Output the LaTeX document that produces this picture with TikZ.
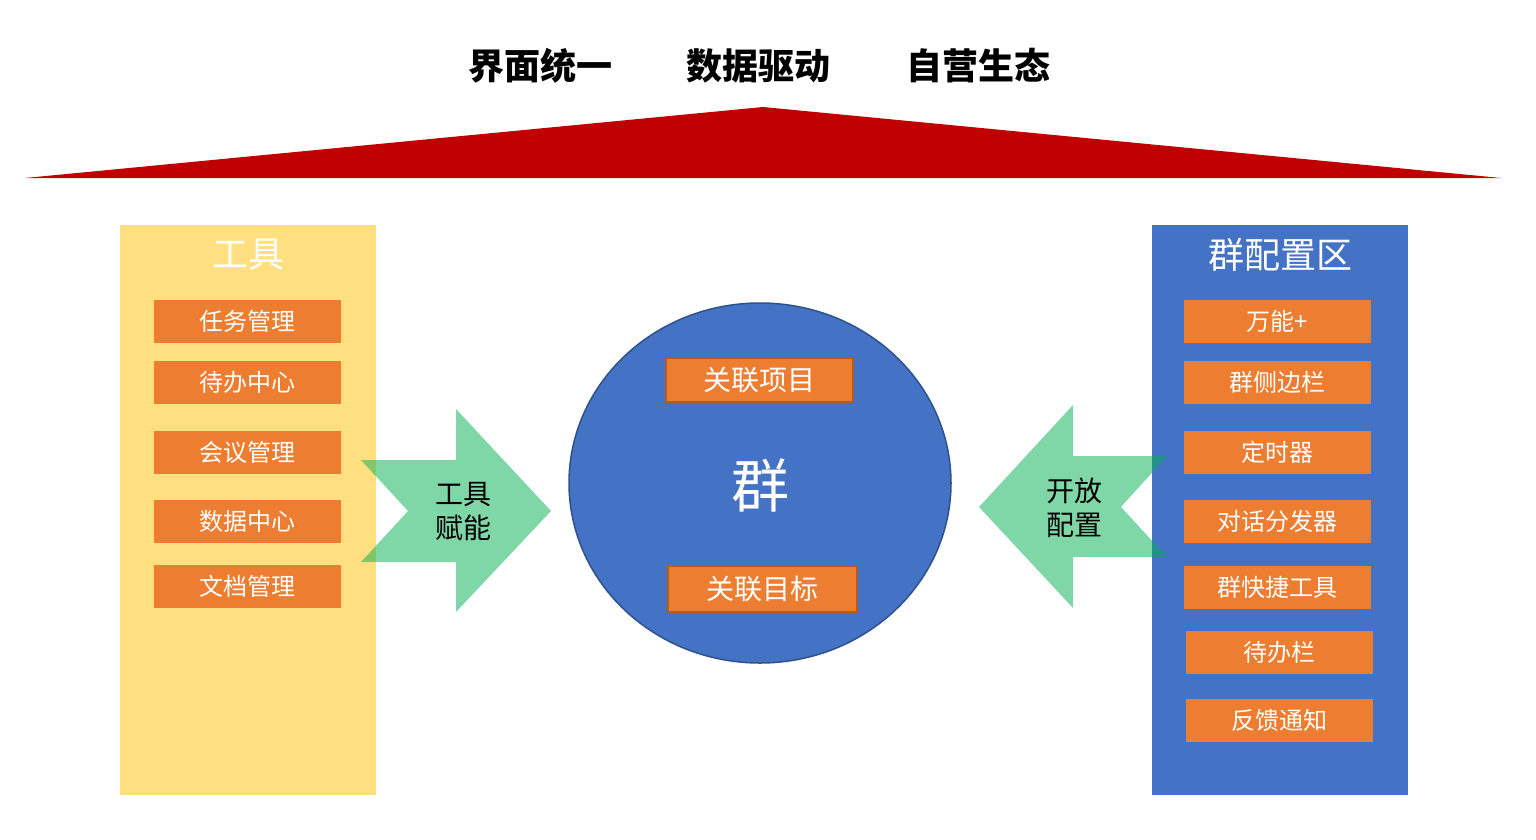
\documentclass[tikz,border=0pt]{standalone}
\usepackage{fontspec}
\setmainfont{Noto Sans CJK SC}[BoldFont={Noto Sans CJK SC Bold}]
\newfontfamily\heavycjk{Noto Sans CJK SC Black}
\usetikzlibrary{shapes.geometric}
\definecolor{pyellow}{HTML}{FFDF80}
\definecolor{pblue}{HTML}{4472C4}
\definecolor{porange}{HTML}{ED7D31}
\definecolor{pred}{HTML}{C00000}
\definecolor{pgreen}{HTML}{00B050}
\definecolor{pborder}{HTML}{2F528F}
\definecolor{oborder}{HTML}{B45C20}
\tikzset{
  obox/.style={fill=porange, text=white, inner sep=0pt, minimum width=187pt, minimum height=43pt,
    font=\fontsize{24}{28}\selectfont},
  cbox/.style={obox, draw=oborder, line width=1.5pt, minimum height=44pt,
    font=\fontsize{28}{32}\selectfont},
  ttl/.style={font=\heavycjk\fontsize{36}{40}\selectfont, text=black},
  ptitle/.style={font=\fontsize{36}{40}\selectfont, text=white},
  atext/.style={font=\fontsize{28}{34}\selectfont, text=black, align=center},
  garrow/.style={fill=pgreen, fill opacity=0.5, draw=none},
}
\begin{document}
\begin{tikzpicture}[x=1pt,y=-1pt]
\useasboundingbox (0,0) rectangle (1536,839);
\fill[white] (0,0) rectangle (1536,839);
% titles
\node[ttl] (t1) at (540,66) {界面统一};
\node[ttl] (t2) at (758,66) {数据驱动};
\node[ttl] (t3) at (978,66) {自营生态};
% roof
\fill[pred] (25,178) -- (763,107) -- (1501,178) -- cycle;
% panels
\fill[pyellow] (120,225) rectangle (376,795);
\fill[pblue] (1152,225) rectangle (1408,795);
\node[ptitle] (lt) at (248,255) {工具};
\node[ptitle] (rt) at (1280,255) {群配置区};
% left boxes
\node[obox] (l1) at (247.5,321.5) {任务管理};
\node[obox] (l2) at (247.5,382.5) {待办中心};
\node[obox] (l3) at (247.5,452.5) {会议管理};
\node[obox] (l4) at (247.5,521.5) {数据中心};
\node[obox] (l5) at (247.5,586.5) {文档管理};
% right boxes
\node[obox] (r1) at (1277.5,321.5) {万能+};
\node[obox] (r2) at (1277.5,382.5) {群侧边栏};
\node[obox] (r3) at (1277.5,452.5) {定时器};
\node[obox] (r4) at (1277.5,521.5) {对话分发器};
\node[obox] (r5) at (1277.5,587) {群快捷工具};
\node[obox] (r6) at (1279.5,652) {待办栏};
\node[obox] (r7) at (1279.5,720) {反馈通知};
% arrows
\fill[garrow] (361,460) -- (456,460) -- (456,409) -- (551,511) -- (456,612) -- (456,562) -- (361,562) -- (408,511) -- cycle;
\fill[garrow] (1167,456) -- (1073,456) -- (1073,405) -- (979,507) -- (1073,608) -- (1073,557) -- (1167,557) -- (1121,507) -- cycle;
\node[atext] (a1) at (463,512) {工具\\赋能};
\node[atext] (a2) at (1074,508) {开放\\配置};
% circle
\node[ellipse, draw=pborder, line width=1.5pt, fill=pblue, minimum width=382pt, minimum height=360pt, inner sep=0pt] (grp) at (760,483) {};
\node[font=\fontsize{58}{62}\selectfont, text=white] (g) at (760,485) {群};
\node[cbox] (c1) at (759.5,380) {关联项目};
\node[cbox, minimum width=189pt, minimum height=46pt] (c2) at (762.5,589) {关联目标};
\end{tikzpicture}
\end{document}
